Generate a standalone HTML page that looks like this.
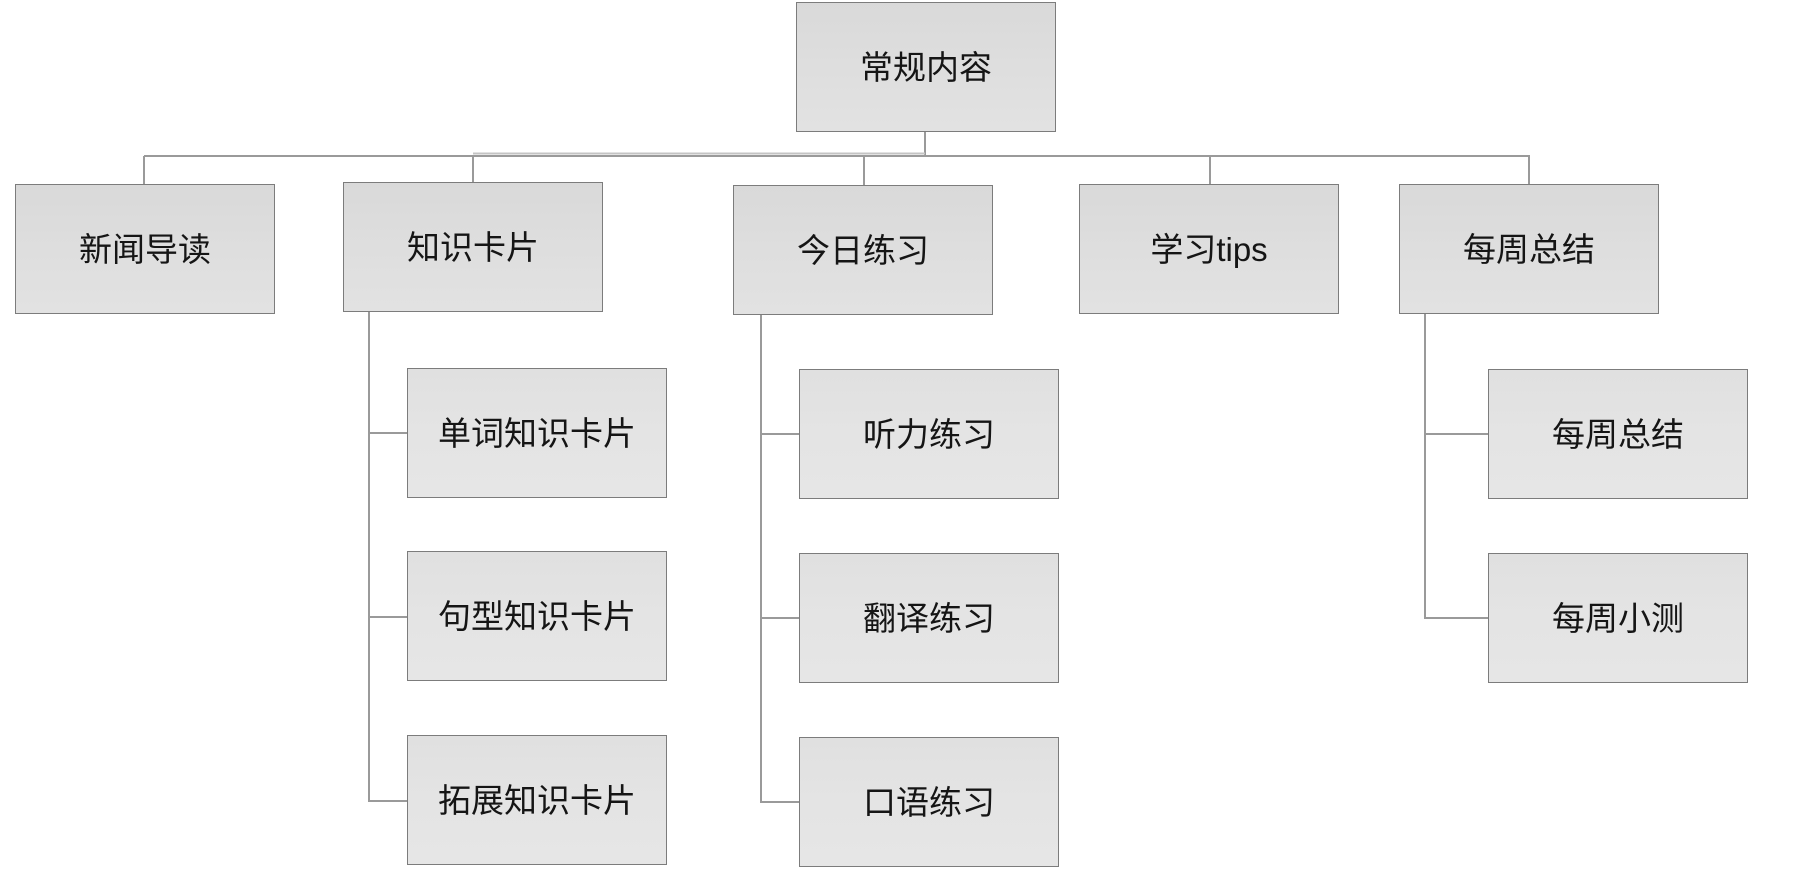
<!DOCTYPE html>
<html>
<head>
<meta charset="utf-8">
<style>
  html, body { margin:0; padding:0; background:#ffffff; }
  body { width:1793px; height:869px; position:relative; overflow:hidden;
         font-family:"Liberation Sans","Noto Sans CJK SC","WenQuanYi Zen Hei",sans-serif; }
  .box { position:absolute; box-sizing:border-box; width:260px; height:130px;
         border:1.5px solid #7c7c7c;
         background:linear-gradient(180deg,#d9d9d9 0%,#dedede 50%,#e2e2e2 100%);
         display:flex; align-items:center; justify-content:center;
         padding-bottom:5px;
         font-size:33px; color:#151515; letter-spacing:0px; }
  .c { background:linear-gradient(180deg,#e0e0e0 0%,#e4e4e4 50%,#e6e6e6 100%); }
  svg { position:absolute; left:0; top:0; }
</style>
</head>
<body>
<svg width="1793" height="869" viewBox="0 0 1793 869">
  <g stroke="#9a9a9a" stroke-width="2" fill="none">
    <line x1="925" y1="131" x2="925" y2="157"/>
    <line x1="144" y1="156" x2="1530" y2="156"/>
    <line x1="144" y1="156" x2="144" y2="184"/>
    <line x1="473" y1="156" x2="473" y2="182"/>
    <line x1="864" y1="156" x2="864" y2="185"/>
    <line x1="1210" y1="156" x2="1210" y2="184"/>
    <line x1="1529" y1="156" x2="1529" y2="184"/>
    <line x1="369" y1="311" x2="369" y2="802"/>
    <line x1="369" y1="433" x2="407" y2="433"/>
    <line x1="369" y1="617" x2="407" y2="617"/>
    <line x1="368" y1="801" x2="407" y2="801"/>
    <line x1="761" y1="315" x2="761" y2="803"/>
    <line x1="761" y1="434" x2="799" y2="434"/>
    <line x1="761" y1="618" x2="799" y2="618"/>
    <line x1="760" y1="802" x2="799" y2="802"/>
    <line x1="1425" y1="313" x2="1425" y2="619"/>
    <line x1="1425" y1="434" x2="1488" y2="434"/>
    <line x1="1424" y1="618" x2="1488" y2="618"/>
  </g>
  <line x1="473" y1="153.5" x2="925" y2="153.5" stroke="#c4c4c4" stroke-width="2"/>
</svg>

<div class="box" style="left:796px;top:2px;">常规内容</div>

<div class="box" style="left:15px;top:184px;">新闻导读</div>
<div class="box" style="left:343px;top:182px;">知识卡片</div>
<div class="box" style="left:733px;top:185px;">今日练习</div>
<div class="box" style="left:1079px;top:184px;">学习tips</div>
<div class="box" style="left:1399px;top:184px;">每周总结</div>

<div class="box c" style="left:407px;top:368px;">单词知识卡片</div>
<div class="box c" style="left:407px;top:551px;">句型知识卡片</div>
<div class="box c" style="left:407px;top:735px;">拓展知识卡片</div>

<div class="box c" style="left:799px;top:369px;">听力练习</div>
<div class="box c" style="left:799px;top:553px;">翻译练习</div>
<div class="box c" style="left:799px;top:737px;">口语练习</div>

<div class="box c" style="left:1488px;top:369px;">每周总结</div>
<div class="box c" style="left:1488px;top:553px;">每周小测</div>
</body>
</html>
